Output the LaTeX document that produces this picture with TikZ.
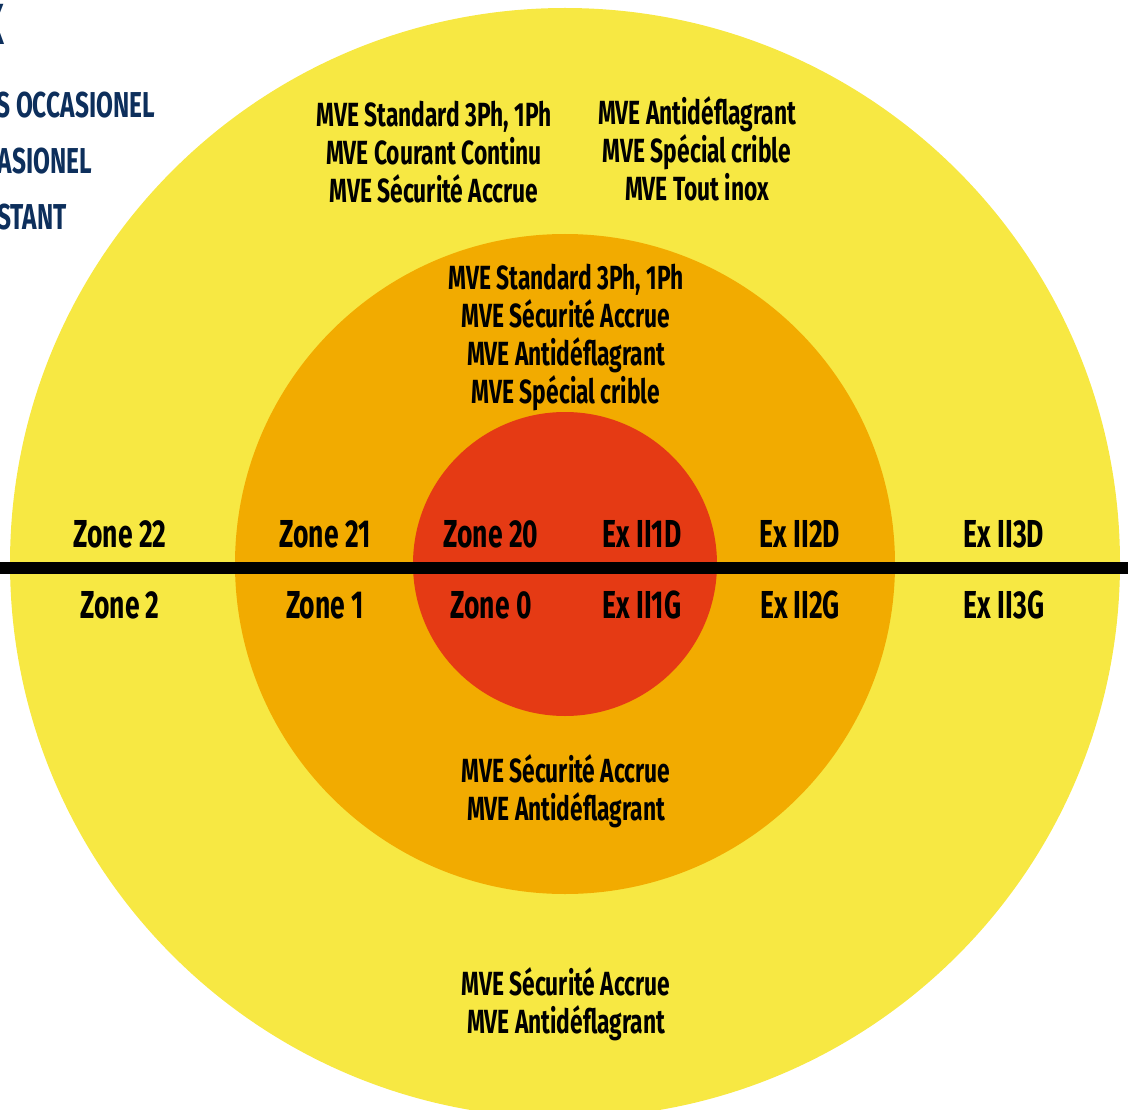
\documentclass[tikz,border=0pt]{standalone}
\usepackage{fontspec}
\setmainfont{Fira Sans}[FakeStretch=0.68]
\definecolor{exyellow}{HTML}{F7E843}
\definecolor{exorange}{HTML}{F2AB00}
\definecolor{exred}{HTML}{E53A14}
\definecolor{legendblue}{HTML}{0D2F5C}
\begin{document}
\begin{tikzpicture}[x=1pt, y=-1pt,
  every node/.style = {inner sep=0pt, align=center, anchor=base,
    font=\bfseries\fontsize{33.5}{38}\selectfont},
  zonelabel/.style = {font=\bfseries\fontsize{39}{44}\selectfont},
  legendtext/.style = {anchor=base east, text=legendblue,
    font=\bfseries\fontsize{36}{40}\selectfont}]
  \useasboundingbox (0,0) rectangle (1128,1110);
  \fill[exyellow] (565,563) circle (555);
  \fill[exorange] (565,564) circle (330);
  \fill[exred] (565,564) circle (152);
  \coordinate (lineL) at (0,568);
  \coordinate (lineR) at (1128,568);
  \draw[line width=12pt] (lineL) -- (lineR);
  \node[legendtext, font=\bfseries\fontsize{58}{60}\selectfont] (legendX) at (5,45) {X};
  \node[legendtext] (legendA) at (155,118) {S OCCASIONEL};
  \node[legendtext] (legendB) at (92,174) {ASIONEL};
  \node[legendtext] (legendC) at (67,230) {STANT};
  \node (yellowL) at (434,203) {MVE Standard 3Ph, 1Ph\\MVE Courant Continu\\MVE Sécurité Accrue};
  \node (yellowR) at (697,201) {MVE Antidéflagrant\\MVE Spécial crible\\MVE Tout inox};
  \node (orangeT) at (566,403) {MVE Standard 3Ph, 1Ph\\MVE Sécurité Accrue\\MVE Antidéflagrant\\MVE Spécial crible};
  \node (orangeB) at (566,820) {MVE Sécurité Accrue\\MVE Antidéflagrant};
  \node (yellowB) at (566,1033) {MVE Sécurité Accrue\\MVE Antidéflagrant};
  \node[zonelabel] (zone22) at (120,547) {Zone 22};
  \node[zonelabel] (zone21) at (325,547) {Zone 21};
  \node[zonelabel] (zone20) at (491,547) {Zone 20};
  \node[zonelabel] (exD1) at (642,547) {Ex II1D};
  \node[zonelabel] (exD2) at (800,547) {Ex II2D};
  \node[zonelabel] (exD3) at (1004,547) {Ex II3D};
  \node[zonelabel] (zone2) at (120,618) {Zone 2};
  \node[zonelabel] (zone1) at (325,618) {Zone 1};
  \node[zonelabel] (zone0) at (491,618) {Zone 0};
  \node[zonelabel] (exG1) at (642,618) {Ex II1G};
  \node[zonelabel] (exG2) at (800,618) {Ex II2G};
  \node[zonelabel] (exG3) at (1004,618) {Ex II3G};
\end{tikzpicture}
\end{document}
